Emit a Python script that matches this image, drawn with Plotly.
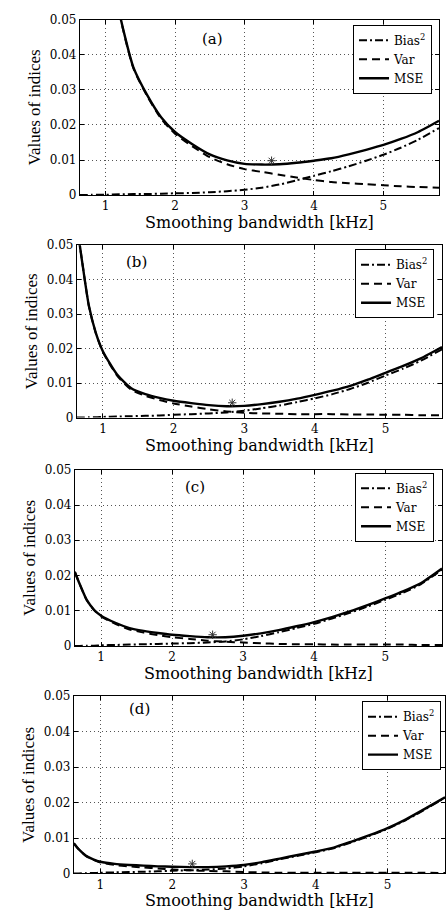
import plotly.graph_objects as go

# ---------------- data ----------------
bandwidth = [0.63, 0.7, 0.8, 0.9, 1.0, 1.2, 1.4, 1.6, 1.8, 2.0, 2.25, 2.5, 2.75,
             3.0, 3.25, 3.5, 3.75, 4.0, 4.25, 4.5, 4.75, 5.0, 5.25, 5.5, 5.8]

mse_a = [0.155, 0.135, 0.11, 0.09, 0.075, 0.052, 0.0365, 0.0285, 0.0222, 0.018, 0.0145, 0.0116, 0.0099,
         0.0089, 0.0087, 0.0088, 0.0092, 0.0098, 0.0105, 0.0116, 0.0129, 0.0143, 0.016, 0.018, 0.0212]
bias_a = [0, 0, 0.0001, 0.0001, 0.0001, 0.0002, 0.0003, 0.0003, 0.0004, 0.0005, 0.0006, 0.0008, 0.0011,
          0.0015, 0.0021, 0.0030, 0.0042, 0.0055, 0.0068, 0.0082, 0.0098, 0.0115, 0.0135, 0.0158, 0.0191]
var_a = [0.155, 0.135, 0.1099, 0.0899, 0.0749, 0.0518, 0.0362, 0.0282, 0.0218, 0.0175, 0.0139, 0.0108, 0.0088,
         0.0074, 0.0066, 0.0058, 0.0050, 0.0043, 0.0037, 0.0034, 0.0031, 0.0028, 0.0025, 0.0023, 0.0021]

mse_b = [0.056, 0.046, 0.0325, 0.0245, 0.0192, 0.0125, 0.0085, 0.0068, 0.0057, 0.0049, 0.0042, 0.0036, 0.0033,
         0.0034, 0.0039, 0.0046, 0.0055, 0.0066, 0.0078, 0.0092, 0.011, 0.013, 0.015, 0.0172, 0.0205]
bias_b = [0, 0, 0.0001, 0.0001, 0.0002, 0.0003, 0.0004, 0.0005, 0.0006, 0.0008, 0.0010, 0.0012, 0.0015,
          0.0020, 0.0027, 0.0035, 0.0045, 0.0056, 0.0068, 0.0083, 0.0101, 0.0122, 0.0142, 0.0165, 0.0198]
var_b = [0.056, 0.046, 0.0324, 0.0244, 0.019, 0.0122, 0.0081, 0.0063, 0.0051, 0.0041, 0.0032, 0.0024, 0.0018,
         0.0014, 0.0012, 0.0011, 0.0010, 0.0010, 0.0010, 0.0009, 0.0009, 0.0008, 0.0008, 0.0007, 0.0007]

mse_c = [0.0210, 0.0175, 0.0130, 0.0103, 0.0086, 0.0066, 0.0051, 0.0043, 0.0037, 0.0032, 0.0028, 0.0025, 0.0025,
         0.0029, 0.0036, 0.0045, 0.0056, 0.0068, 0.0082, 0.0098, 0.0116, 0.0135, 0.0155, 0.0178, 0.0220]
bias_c = [0, 0, 0.0001, 0.0001, 0.0002, 0.0003, 0.0004, 0.0005, 0.0006, 0.0007, 0.0008, 0.0010, 0.0013,
          0.0019, 0.0028, 0.0039, 0.0051, 0.0063, 0.0078, 0.0094, 0.0112, 0.0131, 0.0151, 0.0175, 0.0217]
var_c = [0.0210, 0.0175, 0.0129, 0.0102, 0.0084, 0.0063, 0.0047, 0.0038, 0.0031, 0.0025, 0.0020, 0.0015, 0.0012,
         0.0010, 0.0008, 0.0006, 0.0005, 0.0005, 0.0004, 0.0004, 0.0004, 0.0004, 0.0004, 0.0003, 0.0003]

mse_d = [0.0085, 0.0068, 0.0050, 0.0040, 0.0033, 0.0027, 0.0024, 0.0022, 0.0020, 0.0019, 0.0018, 0.0018, 0.0020,
         0.0024, 0.0032, 0.0042, 0.0052, 0.0062, 0.0073, 0.0090, 0.0108, 0.0128, 0.0152, 0.0180, 0.0215]
bias_d = [0, 0, 0.0001, 0.0001, 0.0002, 0.0003, 0.0004, 0.0005, 0.0006, 0.0008, 0.0009, 0.0011, 0.0014,
          0.0020, 0.0029, 0.0040, 0.0050, 0.0060, 0.0071, 0.0088, 0.0106, 0.0126, 0.0150, 0.0178, 0.0214]
var_d = [0.0085, 0.0068, 0.0049, 0.0039, 0.0031, 0.0024, 0.0020, 0.0017, 0.0014, 0.0011, 0.0009, 0.0007, 0.0006,
         0.0004, 0.0003, 0.0002, 0.0002, 0.0002, 0.0002, 0.0002, 0.0002, 0.0002, 0.0002, 0.0002, 0.0001]

opt_x = [3.39, 2.83, 2.57, 2.28]
opt_y = [0.0098, 0.0043, 0.0032, 0.0027]

panel_labels = ["(a)", "(b)", "(c)", "(d)"]
series_names = ["Bias<sup>2</sup>", "Var", "MSE"]
x_tick_vals = [1, 2, 3, 4, 5]
y_tick_vals = [0, 0.01, 0.02, 0.03, 0.04, 0.05]
y_tick_text = ["0", "0.01", "0.02", "0.03", "0.04", "0.05"]
x_title = "Smoothing bandwidth [kHz]"
y_title = "Values of indices"

# ---------------- layout helpers ----------------
W, H = 446, 910
def px(x):
    return x / W
def py(y):
    return 1 - y / H

# plot-area boxes in window pixels: (left, right, top, bottom)
boxes = [(80, 440, 13, 191), (77, 443, 242, 417), (75, 443, 470, 649), (74, 446, 700, 880)]
legend_pos = [(433, 18), (435, 246), (435, 473), (442, 705)]
label_pos = [(213, 33), (137, 259), (195, 487), (140, 713)]

panels = [(bias_a, var_a, mse_a), (bias_b, var_b, mse_b),
          (bias_c, var_c, mse_c), (bias_d, var_d, mse_d)]

dashes = ["8px,3px,2px,3px", "8px,5px", "solid"]
widths = [2, 2, 2.4]

SERIF = "DejaVu Serif"
fig = go.Figure()
layout = dict(width=W, height=H, margin=dict(l=0, r=0, t=0, b=0),
              paper_bgcolor="white", plot_bgcolor="white", showlegend=True,
              annotations=[])

for i, (series, box) in enumerate(zip(panels, boxes)):
    n = "" if i == 0 else str(i + 1)
    xa, ya = "x" + n, "y" + n
    leg = "legend" + n
    for name, vals, dash, w in zip(series_names, series, dashes, widths):
        fig.add_trace(go.Scatter(x=bandwidth, y=vals, mode="lines", name=name,
                                 xaxis=xa, yaxis=ya, legend=leg,
                                 line=dict(color="black", width=w, dash=dash,
                                           shape="spline", smoothing=0.6)))
    fig.add_trace(go.Scatter(x=[opt_x[i]], y=[opt_y[i]], mode="markers", showlegend=False,
                             xaxis=xa, yaxis=ya,
                             marker=dict(symbol="asterisk-open", size=7, color="#333",
                                         line=dict(color="#333", width=1))))
    l, r, t, b = box
    axis_common = dict(showline=True, linecolor="black", linewidth=1, mirror="ticks",
                       ticks="inside", ticklen=4, tickcolor="black",
                       showgrid=True, gridcolor="#555", gridwidth=1, griddash="1px,3px",
                       zeroline=False, tickfont=dict(family=SERIF, size=12, color="black"))
    layout["xaxis" + n] = dict(axis_common, domain=[px(l), px(r)], range=[0.63, 5.8],
                               anchor=ya, tickvals=x_tick_vals,
                               title=dict(text=x_title, standoff=2,
                                          font=dict(family=SERIF, size=16, color="black")))
    layout["yaxis" + n] = dict(axis_common, domain=[py(b), py(t)], range=[0, 0.05],
                               anchor=xa, tickvals=y_tick_vals, ticktext=y_tick_text,
                               title=dict(text=y_title, standoff=4,
                                          font=dict(family="Liberation Serif", size=17, color="black")))
    lx, ly = legend_pos[i]
    layout[leg] = dict(x=px(lx), y=py(ly), xanchor="right", yanchor="top",
                       bgcolor="white", bordercolor="black", borderwidth=1,
                       font=dict(family=SERIF, size=12, color="black"),
                       itemwidth=30, tracegroupgap=0)
    ax, ay = label_pos[i]
    layout["annotations"].append(dict(text=panel_labels[i], x=px(ax), y=py(ay),
                                      xref="paper", yref="paper", showarrow=False,
                                      xanchor="center", yanchor="middle",
                                      font=dict(family=SERIF, size=15, color="black")))

fig.update_layout(**layout)
# remove the page's default body margin so the 446x910 figure fills the window
fig.write_html("out.html", config={"displayModeBar": False},
               post_script="document.body.style.margin='0';document.body.style.overflow='hidden';")
